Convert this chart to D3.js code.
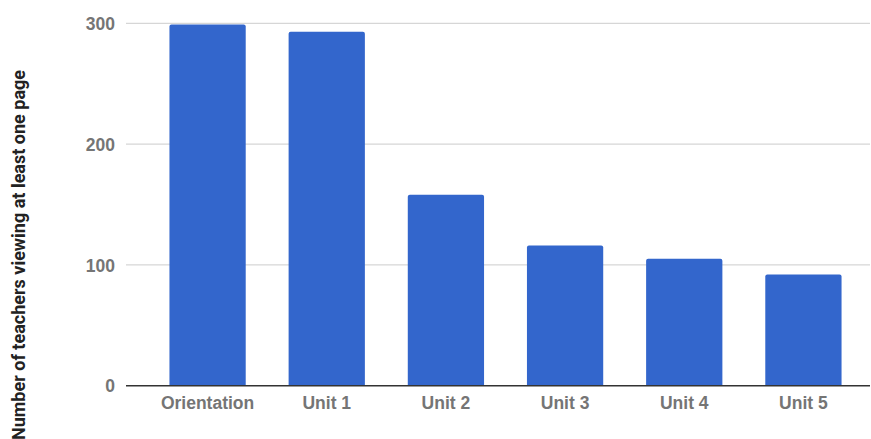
<!DOCTYPE html>
<html>
<head>
<meta charset="utf-8">
<script src="https://cdn.jsdelivr.net/npm/d3@7"></script>
<style>
  body { margin: 0; background: #fff; }
  svg { display: block; font-family: Roboto, "Noto Sans", sans-serif; }
  .axis--y .domain, .axis--x .domain { display: none; }
  .axis--x line { display: none; }
</style>
</head>
<body>
<div id="chart-container"></div>
<script>
var categories = ['Orientation', 'Unit 1', 'Unit 2', 'Unit 3', 'Unit 4', 'Unit 5']
var teachers = [299, 293, 158, 116, 105, 92]
var yTicks = [0, 100, 200, 300]

var WIDTH = 871
var HEIGHT = 439
var plot = {left: 126, right: 870, top: 23.3, bottom: 385.7}

var svg = d3.select('#chart-container')
  .append('svg')
  .attr('width', WIDTH)
  .attr('height', HEIGHT)

var data = categories.map(function(c, i) { return {name: c, value: teachers[i]} })

var xScale = d3.scaleBand()
  .domain(categories)
  .range([148, 863])
  .paddingInner(0.36)
  .paddingOuter(0.18)

var yScale = d3.scaleLinear()
  .domain([0, 300])
  .range([plot.bottom, plot.top])

// gridlines
svg.append('g')
  .selectAll('line')
  .data(yTicks.filter(function(t) { return t > 0 }))
  .enter().append('line')
    .attr('x1', plot.left)
    .attr('x2', plot.right)
    .attr('y1', function(d) { return yScale(d) })
    .attr('y2', function(d) { return yScale(d) })
    .attr('stroke', '#cccccc')
    .attr('stroke-width', 1)

// y axis labels
var yAxis = svg.append('g')
  .attr('class', 'axis axis--y')
  .attr('transform', 'translate(' + plot.left + ',0)')
  .call(d3.axisLeft(yScale).tickValues(yTicks).tickSize(0).tickPadding(11))
yAxis.selectAll('text')
  .attr('fill', '#757575')
  .style('font-size', '17.5px')
  .style('font-weight', 'bold')
  .attr('dy', '0.35em')

// bars with rounded tops
var r = 2
svg.append('g')
  .selectAll('path')
  .data(data)
  .enter().append('path')
    .attr('fill', '#3366cc')
    .attr('d', function(d) {
      var x0 = xScale(d.name)
      var w = xScale.bandwidth()
      var y0 = yScale(d.value)
      var y1 = yScale(0)
      return 'M' + x0 + ',' + y1 +
        'V' + (y0 + r) +
        'Q' + x0 + ',' + y0 + ' ' + (x0 + r) + ',' + y0 +
        'H' + (x0 + w - r) +
        'Q' + (x0 + w) + ',' + y0 + ' ' + (x0 + w) + ',' + (y0 + r) +
        'V' + y1 + 'Z'
    })

// baseline
svg.append('line')
  .attr('x1', plot.left)
  .attr('x2', plot.right)
  .attr('y1', yScale(0))
  .attr('y2', yScale(0))
  .attr('stroke', '#333333')
  .attr('stroke-width', 1.5)

// x axis labels
var xAxis = svg.append('g')
  .attr('class', 'axis axis--x')
  .attr('transform', 'translate(0,' + yScale(0) + ')')
  .call(d3.axisBottom(xScale).tickSize(0).tickPadding(11))
xAxis.selectAll('text')
  .attr('fill', '#757575')
  .style('font-size', '17.5px')
  .style('font-weight', 'bold')

// y axis title
svg.append('text')
  .attr('transform', 'translate(25,255) rotate(-90)')
  .attr('text-anchor', 'middle')
  .attr('fill', '#222222')
  .style('font-size', '18px')
  .style('font-weight', 'bold')
  .text('Number of teachers viewing at least one page')
</script>
</body>
</html>
